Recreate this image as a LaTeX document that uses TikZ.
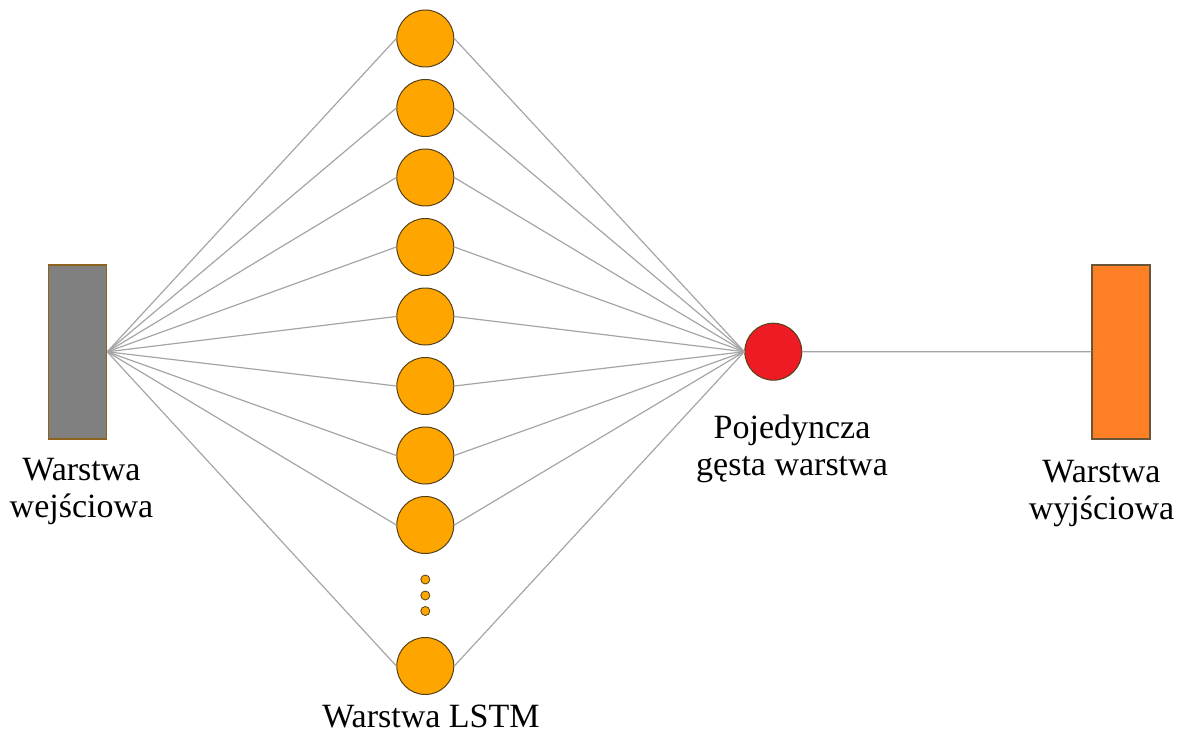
\documentclass[tikz,border=0pt]{standalone}
\usepackage{fontspec}
\setmainfont{Liberation Serif}
\definecolor{linegray}{RGB}{165,165,165}
\definecolor{lstmfill}{RGB}{255,165,0}
\definecolor{lstmdraw}{RGB}{85,65,25}
\definecolor{densefill}{RGB}{237,28,36}
\definecolor{infill}{RGB}{128,128,128}
\definecolor{indraw}{RGB}{140,100,30}
\definecolor{outfill}{RGB}{255,127,39}
\definecolor{outdraw}{RGB}{105,85,55}
\begin{document}
\begin{tikzpicture}[x=1pt,y=-1pt,
  conn/.style={draw=linegray,line width=1.2pt},
  neuron/.style={circle,draw=lstmdraw,line width=1pt,fill=lstmfill,minimum size=57pt,inner sep=0pt},
  dotn/.style={circle,draw=lstmdraw,line width=0.8pt,fill=lstmfill,minimum size=9pt,inner sep=0pt},
  dense/.style={circle,draw=lstmdraw,line width=1pt,fill=densefill,minimum size=57pt,inner sep=0pt},
  layerbox/.style={rectangle,minimum width=58pt,minimum height=174pt,inner sep=0pt,line width=1.5pt},
  lbl/.style={font=\fontsize{34}{37}\selectfont,align=center,inner sep=0pt,text=black}]
\useasboundingbox (0,0) rectangle (1182,735);
\node[layerbox,draw=indraw,fill=infill] (in) at (77.5,351.8) {};
\node[layerbox,draw=outdraw,fill=outfill] (out) at (1121.2,351.8) {};
\node[dense] (d) at (773.3,351.7) {};
\foreach \i/\y in {1/38.5,2/108,3/177.5,4/247,5/316.5,6/386,7/455.5,8/525,9/666} {
  \node[neuron] (n\i) at (425.3,\y) {};
  \draw[conn] (in.east) -- (n\i.west);
  \draw[conn] (n\i.east) -- (d.west);
}
\node[dotn] (p1) at (425.3,579.5) {};
\node[dotn] (p2) at (425.3,595.5) {};
\node[dotn] (p3) at (425.3,611) {};
\draw[conn] (d.east) -- (out.west);
\node[lbl] (lin) at (81.5,491) {Warstwa\\wejściowa};
\node[lbl] (ld) at (792,449) {Pojedyncza\\gęsta warstwa};
\node[lbl] (lout) at (1101.5,494) {Warstwa\\wyjściowa};
\node[lbl,anchor=base] (ll) at (431,727) {Warstwa LSTM};
\end{tikzpicture}
\end{document}
